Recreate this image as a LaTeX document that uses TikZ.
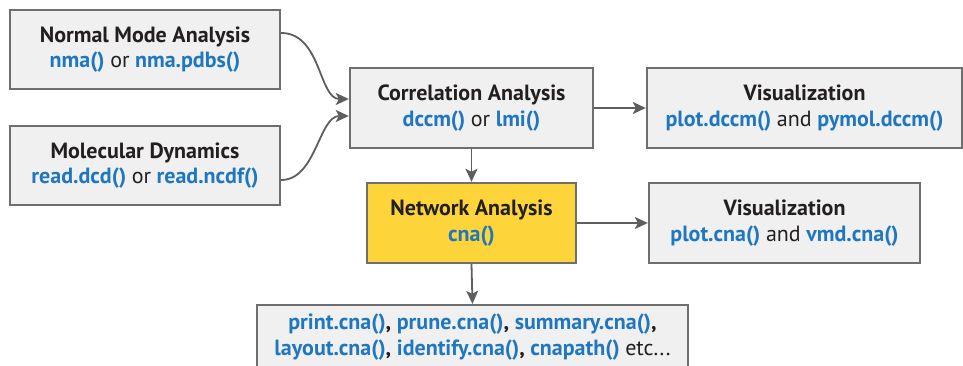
\documentclass[tikz,border=0pt]{standalone}
\usepackage{fontspec}
\setmainfont{PT Sans}
\usetikzlibrary{arrows.meta}
\definecolor{boxfill}{HTML}{F0F0F0}
\definecolor{boxline}{HTML}{6E6E6E}
\definecolor{fnblue}{HTML}{1F77C0}
\definecolor{txtdark}{HTML}{231F20}
\definecolor{netyellow}{HTML}{FDD53A}
\definecolor{arrowgray}{HTML}{5E5E5E}
\newcommand{\fn}[1]{\textcolor{fnblue}{#1}}
\tikzset{
  box/.style={draw=boxline, line width=2.4pt, fill=boxfill, align=center, inner sep=0pt,
    font=\fontsize{22}{25.5}\selectfont\bfseries, text=txtdark},
  conn/.style={draw=arrowgray, line width=1.8pt, -{Stealth[length=13pt,width=12pt,inset=3pt]}}
}
\begin{document}
\begin{tikzpicture}[x=1pt,y=-1pt]
\useasboundingbox (0,0) rectangle (963,366);
\clip (0,0) rectangle (963,366);
\fill[white] (0,0) rectangle (963,366);
\node[box, minimum width=270pt, minimum height=79pt] (nma) at (145,49.5)
  {Normal Mode Analysis\\ \fn{nma()} {\mdseries or} \fn{nma.pdbs()}};
\node[box, minimum width=270pt, minimum height=79pt] (md) at (145,165.5)
  {Molecular Dynamics\\ \fn{read.dcd()} {\mdseries or} \fn{read.ncdf()}};
\node[box, minimum width=243pt, minimum height=80pt] (corr) at (471.5,108)
  {Correlation Analysis\\ \fn{dccm()} {\mdseries or} \fn{lmi()}};
\node[box, minimum width=315pt, minimum height=80pt] (vis1) at (804.5,108)
  {Visualization\\ \fn{plot.dccm()} {\mdseries and} \fn{pymol.dccm()}};
\node[box, fill=netyellow, minimum width=209pt, minimum height=80pt] (net) at (471.5,223)
  {Network Analysis\\ \fn{cna()}};
\node[box, minimum width=271pt, minimum height=80pt] (vis2) at (784.5,223)
  {Visualization\\ \fn{plot.cna()} {\mdseries and} \fn{vmd.cna()}};
\node[box, minimum width=431pt, minimum height=90pt] (etc) at (472.5,350)
  {};
\node[align=center, font=\fontsize{22}{25.5}\selectfont\bfseries, text=txtdark, inner sep=0pt, anchor=base] (etctext) at (472.5,355)
  {\fn{print.cna()}, \fn{prune.cna()}, \fn{summary.cna()},\\
   \fn{layout.cna()}, \fn{identify.cna()}, \fn{cnapath()} {\mdseries etc...}};
\draw[conn] ([yshift=16.5pt]nma.east) .. controls +(40,0) and +(-30,0) .. ([yshift=9pt]corr.west);
\draw[conn] ([yshift=-14.5pt]md.east) .. controls +(35,0) and +(-30,0) .. ([yshift=-8pt]corr.west);
\draw[conn] (corr.east) -- (vis1.west);
\draw[conn] (corr.south) -- (net.north);
\draw[conn] (net.east) -- (vis2.west);
\draw[conn] (net.south) -- (etc.north);
\end{tikzpicture}
\end{document}
